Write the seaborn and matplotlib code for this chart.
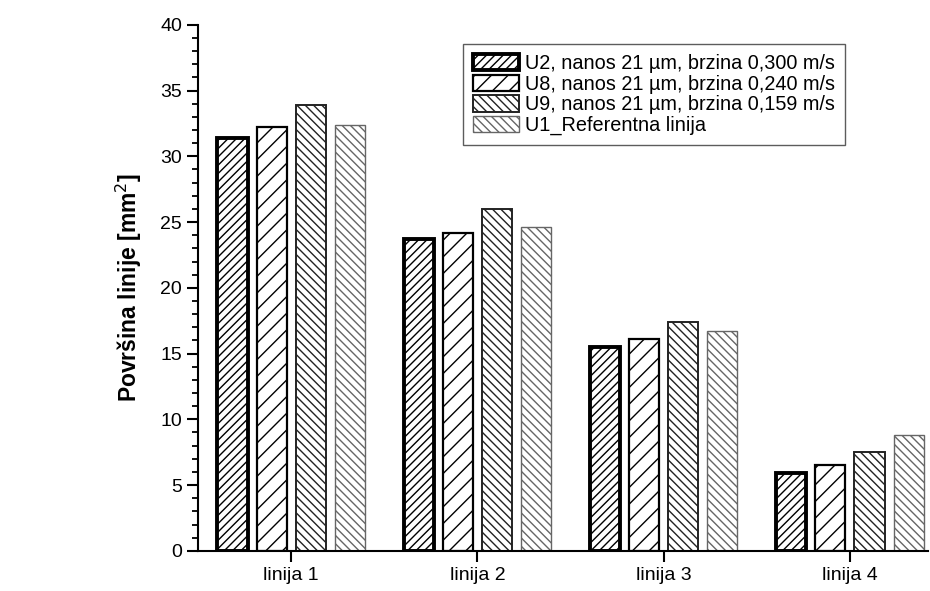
import numpy as np
import pandas as pd
import seaborn as sns
from matplotlib import pyplot as plt
from matplotlib.patches import Patch
from matplotlib.ticker import MultipleLocator

categories = ["linija 1", "linija 2", "linija 3", "linija 4"]
series = ["U2, nanos 21 µm, brzina 0,300 m/s",
          "U8, nanos 21 µm, brzina 0,240 m/s",
          "U9, nanos 21 µm, brzina 0,159 m/s",
          "U1_Referentna linija"]
u2 = [31.4, 23.7, 15.5, 5.95]
u8 = [32.2, 24.2, 16.1, 6.5]
u9 = [33.9, 26.0, 17.4, 7.55]
u1 = [32.4, 24.6, 16.7, 8.8]

rows = []
for name, vals in zip(series, [u2, u8, u9, u1]):
    for c, v in zip(categories, vals):
        rows.append({"linija": c, "serija": name, "povrsina": v})
df = pd.DataFrame(rows)

sns.set_style("ticks")
plt.rcParams['font.family'] = ['Liberation Sans', 'DejaVu Sans']
plt.rcParams['hatch.linewidth'] = 1.0
plt.rcParams['text.color'] = 'black'
plt.rcParams['xtick.color'] = 'black'
plt.rcParams['ytick.color'] = 'black'
plt.rcParams['axes.labelcolor'] = 'black'

hatches = ["////", "//", "\\\\\\\\", "\\\\\\\\"]
edges = ["black", "black", "#222222", "#666666"]
lws = [2.8, 1.6, 1.4, 1.0]

fig = plt.figure(figsize=(9.3, 5.91), dpi=100)
ax = fig.add_axes([0.213, 0.068, 0.785, 0.89])
sns.barplot(data=df, x="linija", y="povrsina", hue="serija", order=categories,
            hue_order=series, palette=["white"] * 4,
            width=0.84, gap=0.23, legend=False, ax=ax, err_kws={"linewidth": 0})

for i, cont in enumerate(ax.containers):
    for p in cont:
        p.set_facecolor("white")
        p.set_edgecolor(edges[i])
        p.set_hatch(hatches[i])
        p.set_linewidth(lws[i])

ax.set_ylim(0, 40)
ax.set_xlim(-0.5, 3.42)
ax.yaxis.set_major_locator(MultipleLocator(5))
ax.yaxis.set_minor_locator(MultipleLocator(1))
ax.tick_params(axis="both", which="major", labelsize=14, width=1.5, length=8)
ax.tick_params(axis="y", which="minor", width=1.3, length=4.5)
ax.set_xlabel("")
ax.set_ylabel("Površina linije [mm$^2$]", fontsize=16.5, fontweight="bold", labelpad=12)
for s in ["top", "right"]:
    ax.spines[s].set_visible(False)
for s in ["left", "bottom"]:
    ax.spines[s].set_linewidth(1.5)
    ax.spines[s].set_color("black")

handles = [Patch(facecolor="white", edgecolor=edges[i], hatch=hatches[i],
                 linewidth=lws[i]) for i in range(4)]
ax.legend(handles, series, loc="upper left", bbox_to_anchor=(463 / 930, 1 - 44 / 591),
          bbox_transform=fig.transFigure, fontsize=14.3, frameon=True, fancybox=False,
          edgecolor="#333333", handlelength=2.3, handleheight=0.9, labelspacing=0.08,
          handletextpad=0.3, borderpad=0.5, borderaxespad=0)

fig.savefig("out.png", dpi=100)
